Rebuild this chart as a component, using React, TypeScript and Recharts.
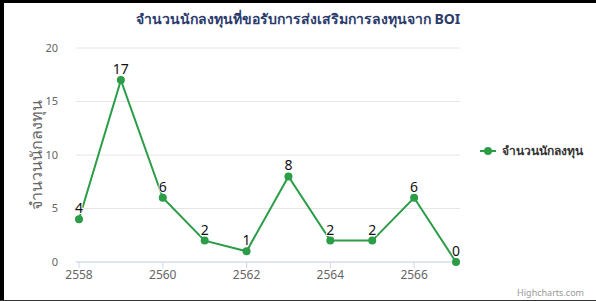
import React from "react";
import { LineChart, Line, XAxis, YAxis, CartesianGrid, LabelList } from "recharts";

const years = [2558, 2559, 2560, 2561, 2562, 2563, 2564, 2565, 2566, 2567];
const investors = [4, 17, 6, 2, 1, 8, 2, 2, 6, 0];
const xTicks = [2558, 2560, 2562, 2564, 2566];
const yTicks = [0, 5, 10, 15, 20];
const seriesName = "จำนวนนักลงทุน";
const titleText = "จำนวนนักลงทุนที่ขอรับการส่งเสริมการลงทุนจาก BOI";

const data = years.map((y, i) => ({ year: y, value: investors[i] }));

const GREEN = "#2a9d46";
const FONT = "'Noto Sans', 'DejaVu Sans', sans-serif";

export default function App() {
  return (
    <div style={{ position: "absolute", left: 0, top: 0, width: 596, height: 301, background: "#fff", overflow: "hidden", fontFamily: FONT }}>
      <LineChart width={596} height={301} data={data} margin={{ top: 48, right: 136, bottom: 9, left: 0 }}>
        <CartesianGrid horizontal vertical={false} stroke="#e6e6e6" />
        <XAxis
          dataKey="year"
          type="number"
          domain={[2558, 2567]}
          ticks={xTicks}
          padding={{ left: 3, right: 4 }}
          height={30}
          stroke="#ccd6eb"
          tickSize={6}
          tick={{ fill: "#666", fontSize: 12, fontFamily: FONT }}
        />
        <YAxis
          type="number"
          domain={[0, 20]}
          ticks={yTicks}
          width={76}
          axisLine={false}
          tickLine={false}
          tick={{ fill: "#666", fontSize: 11, fontFamily: FONT }}
          tickMargin={12}
        />
        <Line
          type="linear"
          dataKey="value"
          name={seriesName}
          stroke={GREEN}
          strokeWidth={2}
          dot={{ r: 4, fill: GREEN, stroke: GREEN, strokeWidth: 0 }}
          isAnimationActive={false}
        >
          <LabelList
            dataKey="value"
            position="top"
            offset={6}
            style={{ fill: "#111", fontSize: 14, fontWeight: 400, fontFamily: FONT, stroke: "#fff", strokeWidth: 2, paintOrder: "stroke" }}
          />
        </Line>
      </LineChart>
      <div style={{ position: "absolute", left: 0, top: 8, width: 596, textAlign: "center", fontSize: 14, fontWeight: 700, color: "#2b3b6b" }}>
        {titleText}
      </div>
      <div style={{ position: "absolute", left: 480, top: 141, display: "flex", alignItems: "center" }}>
        <svg width={16} height={10}>
          <line x1={0} y1={5} x2={16} y2={5} stroke={GREEN} strokeWidth={2} />
          <circle cx={8} cy={5} r={4} fill={GREEN} />
        </svg>
        <span style={{ marginLeft: 6, fontSize: 12, fontWeight: 700, color: "#333" }}>{seriesName}</span>
      </div>
      <div
        style={{
          position: "absolute",
          left: 36,
          top: 155,
          transform: "translate(-50%, -50%) rotate(-90deg)",
          whiteSpace: "nowrap",
          fontSize: 16,
          color: "#666",
        }}
      >
        {seriesName}
      </div>
      <div style={{ position: "absolute", right: 12, top: 286, fontSize: 9, color: "#999" }}>Highcharts.com</div>
      <div style={{ position: "absolute", left: 0, top: 0, width: 596, height: 3, background: "#000" }} />
      <div style={{ position: "absolute", left: 0, top: 0, width: 4, height: 301, background: "#000" }} />
      <div style={{ position: "absolute", left: 0, top: 300, width: 596, height: 1, background: "#333" }} />
    </div>
  );
}
